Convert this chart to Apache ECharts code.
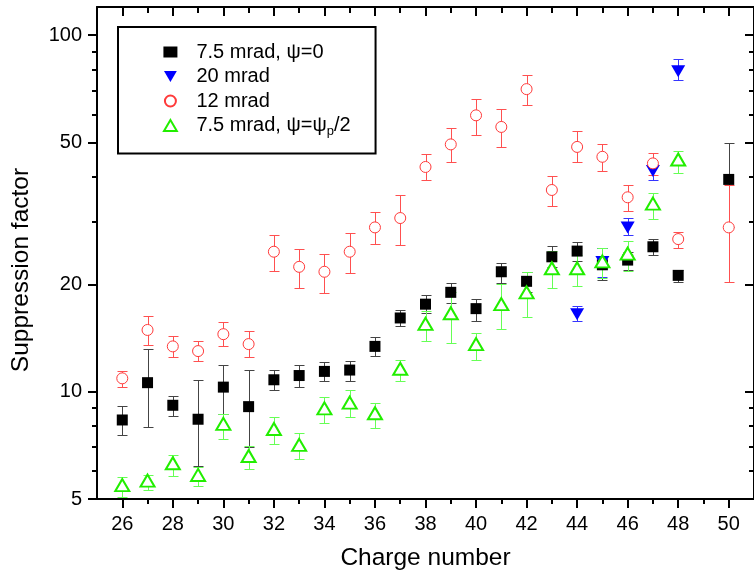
<!DOCTYPE html>
<html><head><meta charset="utf-8">
<script src="https://cdn.jsdelivr.net/npm/echarts@6/dist/echarts.min.js"></script>
<style>html,body{margin:0;padding:0;background:#fff}#c{width:754px;height:578px}</style>
</head><body><div id="c"></div>
<script>
// ---- tick labels ----
const xTicksMajor = [26,28,30,32,34,36,38,40,42,44,46,48,50];
const xTicksMinor = [27,29,31,33,35,37,39,41,43,45,47,49];
const yTicksMajor = [5,10,20,50,100];
const yTicksMinor = [6,7,8,9,30,40,60,70,80,90];

// ---- series names ----
const names = ['7.5 mrad, ψ=0', '20 mrad', '12 mrad', '7.5 mrad, ψ=ψp/2'];

// ---- 7.5 mrad, psi=0 (black squares) ----
const blackZ  = [26,27,28,29,30,31,32,33,34,35,36,37,38,39,40,41,42,43,44,45,46,47,48,50];
const blackV  = [8.33,10.6,9.16,8.37,10.3,9.08,10.8,11.1,11.4,11.5,13.4,16.1,17.6,19.0,17.1,21.7,20.4,23.9,24.8,22.7,23.4,25.5,21.2,39.4];
const blackLo = [7.56,7.95,8.55,6.2,8.66,7.0,10.1,10.3,10.7,10.7,12.6,15.3,16.6,17.7,15.8,20.2,19.1,22.4,23.3,20.6,21.9,24.2,20.3,29.0];
const blackHi = [9.12,13.2,9.74,10.8,11.9,11.5,11.5,11.9,12.1,12.2,14.2,17.0,18.7,20.2,18.2,23.0,21.7,25.6,26.3,25.3,24.7,26.8,21.9,49.9];

// ---- 20 mrad (blue down triangles) ----
const blueZ  = [44,45,46,47,48];
const blueV  = [16.5,23.1,28.9,41.6,79.2];
const blueLo = [15.8,21.0,27.6,39.2,75.0];
const blueHi = [17.4,25.3,30.8,43.5,86.0];

// ---- 12 mrad (red open circles) ----
const redZ  = [26,27,28,29,30,31,32,33,34,35,36,37,38,39,40,41,42,43,44,45,46,47,48,50];
const redV  = [10.9,14.9,13.4,13.0,14.5,13.6,24.7,22.4,21.7,24.7,28.9,30.7,42.7,49.4,59.6,55.3,70.6,36.8,48.6,45.6,35.1,43.7,26.8,28.9];
const redLo = [10.3,13.5,12.5,12.2,13.4,12.5,21.8,19.5,18.9,21.5,25.9,25.8,39.2,44.2,52.5,48.6,63.8,33.2,44.0,41.7,32.2,40.5,25.3,20.3];
const redHi = [11.4,16.3,14.3,13.9,15.7,14.8,27.6,25.2,24.3,27.8,31.9,35.7,46.3,54.8,66.4,62.0,77.1,40.4,53.7,49.4,37.9,46.8,28.1,38.0];

// ---- 7.5 mrad, psi=psi_p/2 (green open triangles) ----
const greenZ  = [26,27,28,29,30,31,32,33,34,35,36,37,38,39,40,41,42,43,44,45,46,47,48];
const greenV  = [5.47,5.63,6.30,5.84,8.12,6.60,7.86,7.09,8.98,9.32,8.70,11.6,15.5,16.6,13.6,17.6,19.0,22.2,22.2,23.2,24.4,33.7,44.8];
const greenLo = [5.06,5.30,5.80,5.45,7.38,6.07,7.14,6.46,8.19,8.47,7.90,10.7,13.9,13.7,12.3,15.0,16.2,19.6,19.8,20.8,21.8,30.6,41.0];
const greenHi = [5.76,5.84,6.66,6.14,8.66,7.04,8.47,7.64,9.64,10.1,9.32,12.3,16.8,19.1,14.6,20.1,21.7,24.8,24.2,25.3,26.5,36.1,47.4];

const FONT = 'Liberation Sans, Arial, sans-serif';
const Y_MIN = 5, Y_MAX = 120;
const L10 = v => Math.log10(v);

function pts(z, v) { return z.map((x, i) => [x, v[i]]); }
function bars(z, lo, hi) { return z.map((x, i) => [x, lo[i], hi[i]]); }

function errSeries(name, data, color) {
  return {
    type: 'custom', name: name, xAxisIndex: 0, yAxisIndex: 0,
    encode: { x: 0, y: [1, 2] }, data: data, silent: true,
    renderItem: function (params, api) {
      const x = api.value(0);
      const pLo = api.coord([x, api.value(1)]);
      const pHi = api.coord([x, api.value(2)]);
      const cx = Math.round(pLo[0]) + 0.5;
      const yl = Math.round(pLo[1]) + 0.5, yh = Math.round(pHi[1]) + 0.5;
      const w = 5;
      const st = { stroke: color, lineWidth: 1 };
      return { type: 'group', children: [
        { type: 'line', shape: { x1: cx, y1: yh, x2: cx, y2: yl }, style: st },
        { type: 'line', shape: { x1: cx - w, y1: yh, x2: cx + w, y2: yh }, style: st },
        { type: 'line', shape: { x1: cx - w, y1: yl, x2: cx + w, y2: yl }, style: st }
      ]};
    }
  };
}

const tickAxisCommon = { splitLine: { show: false }, gridIndex: 0 };
const lineStyleAxis = { color: '#000', width: 2 };
const TRI_UP = 'path://M7,0L14,12L0,12Z';
const TRI_DOWN = 'path://M0,0L14,0L7,12Z';

const chart = echarts.init(document.getElementById('c'), null, { renderer: 'canvas' });
chart.setOption({
  animation: false,
  backgroundColor: '#fff',
  grid: { left: 97, top: 7, width: 663, height: 492, containLabel: false },
  legend: {
    orient: 'vertical', left: 118, top: 27,
    data: [
      { name: names[0], icon: 'rect' },
      { name: names[1], icon: TRI_DOWN, symbolRotate: 0 },
      { name: names[2], icon: 'circle' },
      { name: names[3], icon: TRI_UP, symbolRotate: 0 }
    ],
    selectedMode: false, symbolKeepAspect: true,
    itemWidth: 14, itemHeight: 11, itemGap: 0.5,
    padding: [13, 25, 16, 45],
    borderColor: '#000', borderWidth: 2, backgroundColor: '#fff',
    textStyle: { fontSize: 20, fontFamily: FONT, color: '#000', lineHeight: 24, padding: [0, 0, 0, 14],
      rich: { sub: { fontSize: 13, fontFamily: FONT, color: '#000', verticalAlign: 'bottom', lineHeight: 14 } } },
    formatter: function (n) { return n === names[3] ? '7.5 mrad, ψ=ψ{sub|p}/2' : n; }
  },
  xAxis: [
    Object.assign({}, tickAxisCommon, {
      type: 'value', min: 25, max: 51, position: 'bottom',
      axisLine: { show: true, lineStyle: lineStyleAxis },
      axisTick: { show: true, inside: false, length: 9, lineStyle: lineStyleAxis, customValues: xTicksMajor },
      axisLabel: { show: true, customValues: xTicksMajor, margin: 15, fontSize: 20, fontFamily: FONT, color: '#000' },
      name: 'Charge number', nameLocation: 'middle', nameGap: 47,
      nameTextStyle: { fontSize: 24.5, fontFamily: FONT, color: '#000' }
    }),
    Object.assign({}, tickAxisCommon, {
      type: 'value', min: 25, max: 51, position: 'bottom',
      axisLine: { show: false },
      axisTick: { show: true, inside: false, length: 5, lineStyle: lineStyleAxis, customValues: xTicksMinor },
      axisLabel: { show: false }
    }),
    Object.assign({}, tickAxisCommon, {
      type: 'value', min: 25, max: 51, position: 'top',
      axisLine: { show: true, lineStyle: lineStyleAxis },
      axisTick: { show: true, inside: true, length: 9, lineStyle: lineStyleAxis, customValues: xTicksMajor },
      axisLabel: { show: false }
    }),
    Object.assign({}, tickAxisCommon, {
      type: 'value', min: 25, max: 51, position: 'top',
      axisLine: { show: false },
      axisTick: { show: true, inside: true, length: 6, lineStyle: lineStyleAxis, customValues: xTicksMinor },
      axisLabel: { show: false }
    })
  ],
  yAxis: [
    Object.assign({}, tickAxisCommon, {
      type: 'log', logBase: 10, min: Y_MIN, max: Y_MAX, position: 'left',
      axisLine: { show: true, lineStyle: lineStyleAxis },
      axisTick: { show: false }, axisLabel: { show: false }, minorTick: { show: false },
      name: 'Suppression factor', nameLocation: 'middle', nameGap: 63,
      nameTextStyle: { fontSize: 24.5, fontFamily: FONT, color: '#000', padding: [0, 34, 0, 0] }
    }),
    Object.assign({}, tickAxisCommon, {
      type: 'value', min: L10(Y_MIN), max: L10(Y_MAX), position: 'left',
      axisLine: { show: false },
      axisTick: { show: true, inside: false, length: 9, lineStyle: lineStyleAxis, customValues: yTicksMajor.map(L10) },
      axisLabel: { show: true, customValues: yTicksMajor.map(L10), margin: 15, fontSize: 20, fontFamily: FONT, color: '#000',
        formatter: function (v) { return String(Math.round(Math.pow(10, v))); } }
    }),
    Object.assign({}, tickAxisCommon, {
      type: 'value', min: L10(Y_MIN), max: L10(Y_MAX), position: 'left',
      axisLine: { show: false },
      axisTick: { show: true, inside: false, length: 5, lineStyle: lineStyleAxis, customValues: yTicksMinor.map(L10) },
      axisLabel: { show: false }
    }),
    Object.assign({}, tickAxisCommon, {
      type: 'value', min: L10(Y_MIN), max: L10(Y_MAX), position: 'right',
      axisLine: { show: true, lineStyle: lineStyleAxis },
      axisTick: { show: true, inside: true, length: 9, lineStyle: lineStyleAxis, customValues: yTicksMajor.map(L10) },
      axisLabel: { show: false }
    }),
    Object.assign({}, tickAxisCommon, {
      type: 'value', min: L10(Y_MIN), max: L10(Y_MAX), position: 'right',
      axisLine: { show: false },
      axisTick: { show: true, inside: true, length: 5, lineStyle: lineStyleAxis, customValues: yTicksMinor.map(L10) },
      axisLabel: { show: false }
    })
  ],
  series: [
    errSeries('err0', bars(blackZ, blackLo, blackHi), '#444'),
    { type: 'scatter', name: names[0], xAxisIndex: 0, yAxisIndex: 0, data: pts(blackZ, blackV),
      symbol: 'rect', symbolSize: 11, itemStyle: { color: '#000', opacity: 1 } },
    errSeries('err1', bars(blueZ, blueLo, blueHi), '#3535ff'),
    { type: 'scatter', name: names[1], xAxisIndex: 0, yAxisIndex: 0, data: pts(blueZ, blueV),
      symbol: TRI_DOWN, symbolSize: [14, 12], itemStyle: { color: '#0000ff', opacity: 1 } },
    errSeries('err2', bars(redZ, redLo, redHi), '#ff5050'),
    { type: 'scatter', name: names[2], xAxisIndex: 0, yAxisIndex: 0, data: pts(redZ, redV),
      symbol: 'circle', symbolSize: 11, itemStyle: { color: '#fff', borderColor: '#ff3a3a', borderWidth: 1, opacity: 1 } },
    errSeries('err3', bars(greenZ, greenLo, greenHi), '#66ff55'),
    { type: 'scatter', name: names[3], xAxisIndex: 0, yAxisIndex: 0, data: pts(greenZ, greenV),
      symbol: TRI_UP, symbolSize: [14, 12], itemStyle: { color: '#fff', borderColor: '#22ee00', borderWidth: 2, opacity: 1 } }
  ]
});
</script>
</body></html>
